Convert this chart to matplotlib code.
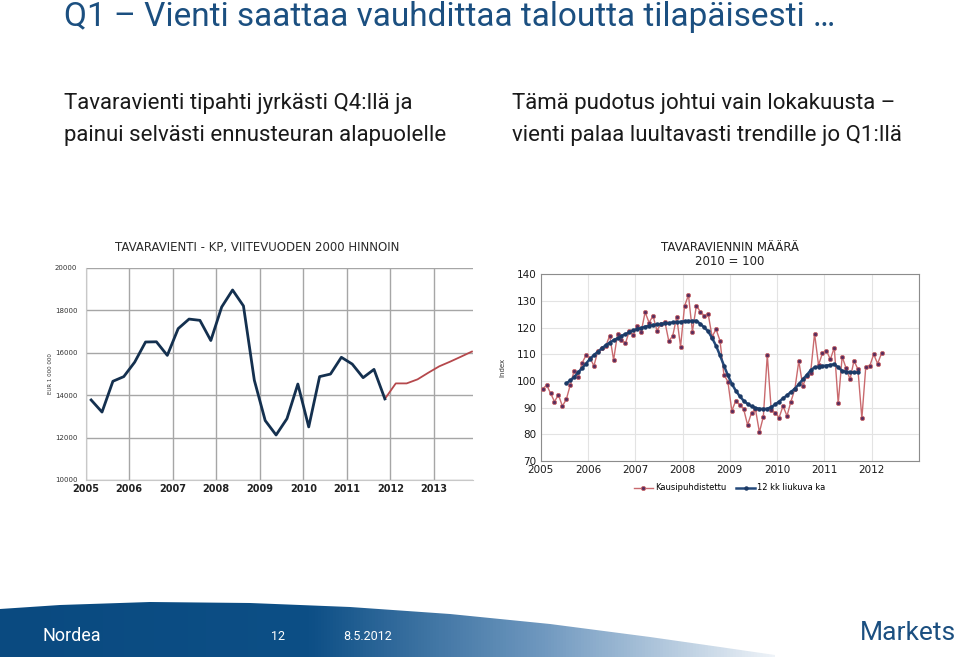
import numpy as np
import matplotlib
matplotlib.use('Agg')
import matplotlib.pyplot as plt
from matplotlib.patches import Polygon
from matplotlib.colors import LinearSegmentedColormap

# TEXTS

SLIDE_TITLE = 'Q1 – Vienti saattaa vauhdittaa taloutta tilapäisesti …'
TEXT_LEFT = 'Tavaravienti tipahti jyrkästi Q4:llä ja\npainui selvästi ennusteuran alapuolelle'
TEXT_RIGHT = 'Tämä pudotus johtui vain lokakuusta –\nvienti palaa luultavasti trendille jo Q1:llä'
LEFT_TITLE = 'TAVARAVIENTI - KP, VIITEVUODEN 2000 HINNOIN'
RIGHT_TITLE = 'TAVARAVIENNIN MÄÄRÄ\n2010 = 100'

# DATA - left chart, quarterly, EUR 1 000 000

LEFT_YEARS = [2005, 2006, 2007, 2008, 2009, 2010, 2011, 2012, 2013]
LEFT_YTICKS = [10000, 12000, 14000, 16000, 18000, 20000]
EXPORT_ACTUAL = [13770, 13200, 14650, 14870,   # 2005
                 15550, 16500, 16510, 15870,   # 2006
                 17130, 17580, 17520, 16570,   # 2007
                 18150, 18950, 18200, 14700,   # 2008
                 12800, 12120, 12890, 14520,   # 2009
                 12500, 14870, 14990, 15780,   # 2010
                 15460, 14820, 15210, 13820]   # 2011
# forecast 2011Q4 -> 2013Q4
EXPORT_FORECAST = [13820, 14550, 14550, 14740, 15055, 15355, 15575, 15810, 16050]

# DATA - right chart, monthly from Jan 2005, index 2010 = 100

RIGHT_YEARS = [2005, 2006, 2007, 2008, 2009, 2010, 2011, 2012]
RIGHT_YTICKS = [70, 80, 90, 100, 110, 120, 130, 140]
SEASONAL_ADJ = [97.0, 98.5, 95.4, 92.3, 94.8, 90.6, 93.1, 98.5, 103.9, 101.6, 106.8, 109.6,   # 2005
                108.8, 105.6, 111.3, 112.3, 113.0, 117.0, 107.9, 117.6, 115.4, 114.1, 118.8, 117.2,  # 2006
                120.6, 118.5, 125.8, 121.9, 124.4, 118.9, 121.4, 122.3, 115.0, 116.9, 123.9, 112.9,  # 2007
                128.1, 132.2, 118.5, 128.3, 126.0, 124.5, 125.1, 116.6, 119.4, 115.1, 102.3, 99.8,   # 2008
                88.8, 92.6, 91.0, 89.5, 83.5, 88.1, 89.4, 80.8, 86.6, 109.8, 89.1, 88.1,            # 2009
                86.3, 90.6, 86.9, 92.3, 97.0, 107.5, 98.1, 101.9, 103.1, 117.8, 106.0, 110.4,        # 2010
                111.4, 108.1, 112.5, 91.6, 109.1, 104.8, 100.6, 107.6, 104.4, 86.0, 105.4, 105.6,    # 2011
                110.0, 106.5, 110.4]                                                                  # 2012
# 12 kk liukuva ka, Jul 2005 -> Sep 2011
MA_START = 6
MOVING_AVG = [99.1, 100.2, 101.5, 103.2, 104.8, 106.5,
              108.3, 109.7, 111.0, 112.2, 113.4, 114.4, 115.3, 116.0, 116.9, 117.6, 118.3, 119.0,
              119.5, 119.9, 120.4, 120.7, 121.0, 121.2, 121.4, 121.6, 121.7, 122.0, 122.1, 122.2,
              122.4, 122.5, 122.5, 122.6, 121.4, 120.1, 118.6, 116.1, 113.2, 109.6, 105.8, 102.1,
              98.9, 96.4, 94.3, 92.6, 91.4, 90.5, 89.9, 89.6, 89.5, 89.6, 90.2, 91.2,
              92.3, 93.5, 94.6, 95.9, 97.1, 98.8, 100.6, 102.2, 104.0, 105.1, 105.4, 105.6,
              105.8, 106.0, 106.3, 105.1, 103.8, 103.5, 103.3, 103.2, 103.2]

# COLOURS

NORDEA_BLUE = '#1b4f80'
LINE_NAVY = '#14304f'
FORECAST_RED = '#b5484c'
SA_RED = '#c96a6e'
SA_MARKER = '#5a2d5c'
MA_BLUE = '#24497a'
GRID_DARK = '#a6a6a6'
GRID_LIGHT = '#e3e3e3'

SLIDE_FONT = ['Roboto', 'DejaVu Sans']

plt.rcParams['font.family'] = ['DejaVu Sans']
fig = plt.figure(figsize=(9.6, 6.58), dpi=100)

# background / slide decoration
bg = fig.add_axes([0, 0, 1, 1], zorder=-1)
bg.set_xlim(0, 960)
bg.set_ylim(658, 0)
bg.axis('off')

band = [(0, 609), (60, 605), (150, 602), (250, 603), (350, 607), (450, 614), (550, 624),
        (650, 637), (720, 647), (775, 655), (775, 657), (0, 657)]
poly = Polygon(band, closed=True, facecolor='none', edgecolor='none')
bg.add_patch(poly)
band_cmap = LinearSegmentedColormap.from_list(
    'band', [(0, '#0a4a80'), (0.40, '#0d4f86'), (0.70, '#6f98bf'), (1.0, '#eef3f8')])
grad = np.linspace(0, 1, 256).reshape(1, -1)
im = bg.imshow(grad, cmap=band_cmap, extent=[0, 775, 657, 600], aspect='auto')
im.set_clip_path(poly)

fig.text(64 / 960, 1 - 17 / 658, SLIDE_TITLE, fontsize=24, color=NORDEA_BLUE,
         family=SLIDE_FONT, va='center', ha='left')
fig.text(64 / 960, 1 - 104 / 658, TEXT_LEFT.split('\n')[0], fontsize=16, color='#1a1a1a',
         va='center', ha='left', family=SLIDE_FONT)
fig.text(64 / 960, 1 - 135 / 658, TEXT_LEFT.split('\n')[1], fontsize=16, color='#1a1a1a',
         va='center', ha='left', family=SLIDE_FONT)
fig.text(512 / 960, 1 - 104 / 658, TEXT_RIGHT.split('\n')[0], fontsize=16, color='#1a1a1a',
         va='center', ha='left', family=SLIDE_FONT)
fig.text(512 / 960, 1 - 135 / 658, TEXT_RIGHT.split('\n')[1], fontsize=16, color='#1a1a1a',
         va='center', ha='left', family=SLIDE_FONT)

fig.text(42 / 960, 1 - 636 / 658, 'Nordea', fontsize=13, color='white',
         va='center', ha='left', family=SLIDE_FONT)
fig.text(278 / 960, 1 - 637 / 658, '12', fontsize=9, color='white', va='center', ha='center',
         family=SLIDE_FONT)
fig.text(368 / 960, 1 - 637 / 658, '8.5.2012', fontsize=9, color='white', va='center', ha='center',
         family=SLIDE_FONT)
fig.text(860 / 960, 1 - 633 / 658, 'Markets', fontsize=19, color=NORDEA_BLUE, va='center', ha='left',
         family=SLIDE_FONT)

# LEFT CHART

ax1 = fig.add_axes([85.7 / 960, 1 - 480 / 658, 387.3 / 960, 212.3 / 658])
x_act = np.arange(len(EXPORT_ACTUAL)) / 4 + LEFT_YEARS[0] + 0.125
x_fc = x_act[-1] + np.arange(len(EXPORT_FORECAST)) / 4
ax1.plot(x_fc, EXPORT_FORECAST, color=FORECAST_RED, linewidth=1.3, zorder=3)
ax1.plot(x_act, EXPORT_ACTUAL, color=LINE_NAVY, linewidth=2.0, zorder=4)
ax1.set_xlim(2005, 2013.9)
ax1.set_ylim(10000, 20000)
ax1.set_xticks(LEFT_YEARS)
ax1.set_xticklabels([str(y) for y in LEFT_YEARS], fontsize=7, color='#222222', weight='bold')
ax1.set_yticks(LEFT_YTICKS)
ax1.set_yticklabels([str(v) for v in LEFT_YTICKS], fontsize=5, color='#333333')
ax1.tick_params(length=0, pad=3)
ax1.tick_params(axis='y', pad=6)
ax1.grid(True, color=GRID_DARK, linewidth=1.0)
for s in ['top', 'right']:
    ax1.spines[s].set_visible(False)
for s in ['left', 'bottom']:
    ax1.spines[s].set_color('#c8c8c8')
ax1.set_ylabel('EUR 1 000 000', fontsize=4, color='#333333')
ax1.yaxis.set_label_coords(-0.085, 0.5)
fig.text(257 / 960, 1 - 248 / 658, LEFT_TITLE, fontsize=8.5, color='#2a2a2a',
         va='center', ha='center')

# RIGHT CHART

ax2 = fig.add_axes([540.7 / 960, 1 - 461 / 658, 378.3 / 960, 186.7 / 658])
x_m = RIGHT_YEARS[0] + (np.arange(len(SEASONAL_ADJ)) + 0.5) / 12
x_ma = RIGHT_YEARS[0] + (np.arange(len(MOVING_AVG)) + MA_START + 0.5) / 12
ax2.plot(x_m, SEASONAL_ADJ, color=SA_RED, linewidth=1.0, marker='o', markersize=3,
         markerfacecolor=SA_MARKER, markeredgecolor=SA_RED, markeredgewidth=0.6,
         label='Kausipuhdistettu', zorder=3)
ax2.plot(x_ma, MOVING_AVG, color=MA_BLUE, linewidth=1.8, marker='o', markersize=2.2,
         markerfacecolor='#1c3a66', markeredgecolor='#1c3a66', label='12 kk liukuva ka', zorder=4)
ax2.set_xlim(2005, 2013)
ax2.set_ylim(70, 140)
ax2.set_xticks(RIGHT_YEARS + [2013])
ax2.set_xticklabels([str(y) for y in RIGHT_YEARS] + [''], fontsize=7.5, color='#1a1a1a')
ax2.set_yticks(RIGHT_YTICKS)
ax2.set_yticklabels([str(v) for v in RIGHT_YTICKS], fontsize=7.5, color='#1a1a1a')
ax2.tick_params(length=0, pad=3)
ax2.grid(True, color=GRID_LIGHT, linewidth=0.8)
for s in ax2.spines.values():
    s.set_color('#8c8c8c')
    s.set_linewidth(0.8)
ax2.set_ylabel('Index', fontsize=5, labelpad=8, color='#333333')
ax2.set_title(RIGHT_TITLE, fontsize=8.5, color='#222222', pad=7, linespacing=1.1)
ax2.legend(loc='upper center', bbox_to_anchor=(0.5, -0.08), ncol=2, frameon=False,
           fontsize=6, handlelength=2.2, columnspacing=1.2, handletextpad=0.3)

fig.savefig('out.png', dpi=100)
